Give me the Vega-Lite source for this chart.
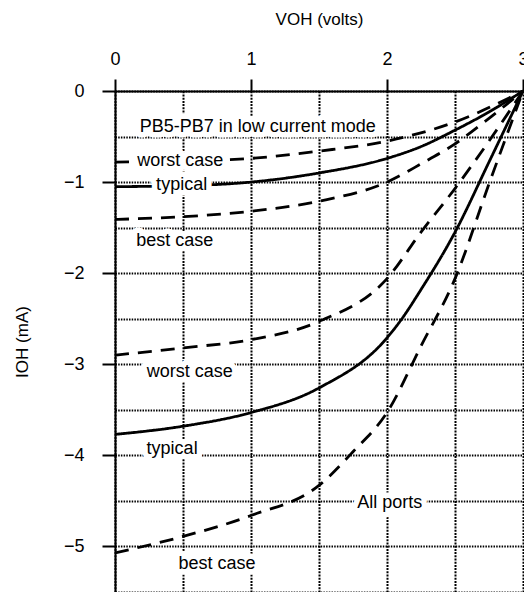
{
  "$schema": "https://vega.github.io/schema/vega-lite/v6.json",
  "width": 408,
  "height": 501,
  "autosize": {"type": "none"},
  "padding": {"left": 115, "top": 91, "right": 1, "bottom": 0},
  "background": "white",
  "config": {"view": {"stroke": null}, "font": "Liberation Sans"},
  "datasets": {
    "curves": [
      {"series": "low-worst", "case": "worst", "V": 0, "I": -0.78},
      {"series": "low-worst", "case": "worst", "V": 0.5, "I": -0.77},
      {"series": "low-worst", "case": "worst", "V": 1, "I": -0.74},
      {"series": "low-worst", "case": "worst", "V": 1.5, "I": -0.66},
      {"series": "low-worst", "case": "worst", "V": 2, "I": -0.55},
      {"series": "low-worst", "case": "worst", "V": 2.5, "I": -0.34},
      {"series": "low-worst", "case": "worst", "V": 3, "I": 0},
      {"series": "low-typical", "case": "typical", "V": 0, "I": -1.05},
      {"series": "low-typical", "case": "typical", "V": 0.5, "I": -1.04},
      {"series": "low-typical", "case": "typical", "V": 1, "I": -1.0},
      {"series": "low-typical", "case": "typical", "V": 1.5, "I": -0.9},
      {"series": "low-typical", "case": "typical", "V": 2, "I": -0.74},
      {"series": "low-typical", "case": "typical", "V": 2.25, "I": -0.61},
      {"series": "low-typical", "case": "typical", "V": 2.5, "I": -0.43},
      {"series": "low-typical", "case": "typical", "V": 2.75, "I": -0.23},
      {"series": "low-typical", "case": "typical", "V": 3, "I": 0},
      {"series": "low-best", "case": "best", "V": 0, "I": -1.41},
      {"series": "low-best", "case": "best", "V": 0.5, "I": -1.38},
      {"series": "low-best", "case": "best", "V": 1, "I": -1.32},
      {"series": "low-best", "case": "best", "V": 1.5, "I": -1.21},
      {"series": "low-best", "case": "best", "V": 2, "I": -1.0},
      {"series": "low-best", "case": "best", "V": 2.25, "I": -0.8},
      {"series": "low-best", "case": "best", "V": 2.5, "I": -0.58},
      {"series": "low-best", "case": "best", "V": 2.75, "I": -0.3},
      {"series": "low-best", "case": "best", "V": 3, "I": 0},
      {"series": "all-worst", "case": "worst", "V": 0, "I": -2.9},
      {"series": "all-worst", "case": "worst", "V": 0.5, "I": -2.82},
      {"series": "all-worst", "case": "worst", "V": 1, "I": -2.73},
      {"series": "all-worst", "case": "worst", "V": 1.5, "I": -2.53},
      {"series": "all-worst", "case": "worst", "V": 2, "I": -2.06},
      {"series": "all-worst", "case": "worst", "V": 2.25, "I": -1.55},
      {"series": "all-worst", "case": "worst", "V": 2.5, "I": -1.07},
      {"series": "all-worst", "case": "worst", "V": 2.75, "I": -0.55},
      {"series": "all-worst", "case": "worst", "V": 3, "I": 0},
      {"series": "all-typical", "case": "typical", "V": 0, "I": -3.77},
      {"series": "all-typical", "case": "typical", "V": 0.5, "I": -3.68},
      {"series": "all-typical", "case": "typical", "V": 1, "I": -3.53},
      {"series": "all-typical", "case": "typical", "V": 1.5, "I": -3.26},
      {"series": "all-typical", "case": "typical", "V": 2, "I": -2.71},
      {"series": "all-typical", "case": "typical", "V": 2.1, "I": -2.52},
      {"series": "all-typical", "case": "typical", "V": 2.25, "I": -2.18},
      {"series": "all-typical", "case": "typical", "V": 2.5, "I": -1.55},
      {"series": "all-typical", "case": "typical", "V": 2.75, "I": -0.78},
      {"series": "all-typical", "case": "typical", "V": 3, "I": 0},
      {"series": "all-best", "case": "best", "V": 0, "I": -5.07},
      {"series": "all-best", "case": "best", "V": 0.5, "I": -4.89},
      {"series": "all-best", "case": "best", "V": 1, "I": -4.66},
      {"series": "all-best", "case": "best", "V": 1.5, "I": -4.33},
      {"series": "all-best", "case": "best", "V": 1.75, "I": -3.96},
      {"series": "all-best", "case": "best", "V": 2, "I": -3.53},
      {"series": "all-best", "case": "best", "V": 2.25, "I": -2.8},
      {"series": "all-best", "case": "best", "V": 2.5, "I": -2.06},
      {"series": "all-best", "case": "best", "V": 2.75, "I": -1.02},
      {"series": "all-best", "case": "best", "V": 3, "I": 0}
    ],
    "labels": [
      {"text": "PB5-PB7 in low current mode", "V": 1.05, "I": -0.39},
      {"text": "worst case", "V": 0.48, "I": -0.77},
      {"text": "typical", "V": 0.49, "I": -1.03},
      {"text": "best case", "V": 0.44, "I": -1.65},
      {"text": "worst case", "V": 0.55, "I": -3.09},
      {"text": "typical", "V": 0.42, "I": -3.93},
      {"text": "All ports", "V": 2.02, "I": -4.52},
      {"text": "best case", "V": 0.75, "I": -5.19}
    ]
  },
  "layer": [
    {
      "data": {"name": "curves"},
      "mark": {"type": "line", "strokeWidth": 2.8, "interpolate": "monotone", "color": "black"},
      "encoding": {
        "x": {
          "field": "V", "type": "quantitative",
          "scale": {"domain": [0, 3], "nice": false, "zero": false},
          "axis": {
            "orient": "top",
            "values": [0, 0.5, 1, 1.5, 2, 2.5, 3],
            "labelExpr": "datum.value % 1 === 0 ? '' + datum.value : ''",
            "title": "VOH (volts)",
            "titleFont": "Liberation Sans",
            "titleFontSize": 17,
            "titleFontWeight": "normal",
            "titleColor": "black",
            "titlePadding": 22,
            "labelFont": "Liberation Sans",
            "labelFontSize": 18,
            "labelColor": "black",
            "labelPadding": 11,
            "labelFlush": false,
            "labelOverlap": false,
            "tickSize": 12,
            "tickWidth": 2,
            "tickColor": "black",
            "tickOpacity": {"condition": {"test": "datum.value % 1 === 0", "value": 1}, "value": 0},
            "domainColor": "black",
            "domainWidth": 2,
            "grid": true,
            "gridColor": "black",
            "gridDash": [2, 1.2],
            "gridWidth": 2
          }
        },
        "y": {
          "field": "I", "type": "quantitative",
          "scale": {"domain": [-5.5, 0], "nice": false, "zero": false},
          "axis": {
            "orient": "left",
            "values": [0, -0.5, -1, -1.5, -2, -2.5, -3, -3.5, -4, -4.5, -5, -5.5],
            "labelExpr": "datum.value % 1 === 0 ? (datum.value < 0 ? '\u2212' + abs(datum.value) : '0') : ''",
            "title": "IOH (mA)",
            "titleFont": "Liberation Sans",
            "titleFontSize": 17,
            "titleFontWeight": "normal",
            "titleColor": "black",
            "titlePadding": 32,
            "labelFont": "Liberation Sans",
            "labelFontSize": 18,
            "labelColor": "black",
            "labelPadding": 18,
            "labelOverlap": false,
            "labelFlush": false,
            "tickSize": 13,
            "tickWidth": 2,
            "tickColor": "black",
            "tickOpacity": {"condition": {"test": "datum.value % 1 === 0", "value": 1}, "value": 0},
            "domainColor": "black",
            "domainWidth": 2,
            "grid": true,
            "gridColor": "black",
            "gridDash": [1.5, 1.2],
            "gridWidth": 1.8
          }
        },
        "detail": {"field": "series", "type": "nominal"},
        "strokeDash": {
          "field": "case", "type": "nominal",
          "scale": {"domain": ["typical", "worst", "best"], "range": [[1, 0], [14, 9], [14, 9]]},
          "legend": null
        }
      }
    },
    {
      "data": {"name": "labels"},
      "mark": {"type": "text", "font": "Liberation Sans", "fontSize": 18, "baseline": "middle", "align": "center", "fill": "white", "stroke": "white", "strokeWidth": 11, "strokeJoin": "round"},
      "encoding": {
        "x": {"field": "V", "type": "quantitative"},
        "y": {"field": "I", "type": "quantitative"},
        "text": {"field": "text", "type": "nominal"}
      }
    },
    {
      "data": {"name": "labels"},
      "mark": {"type": "text", "font": "Liberation Sans", "fontSize": 18, "baseline": "middle", "align": "center", "color": "black"},
      "encoding": {
        "x": {"field": "V", "type": "quantitative"},
        "y": {"field": "I", "type": "quantitative"},
        "text": {"field": "text", "type": "nominal"}
      }
    }
  ]
}
